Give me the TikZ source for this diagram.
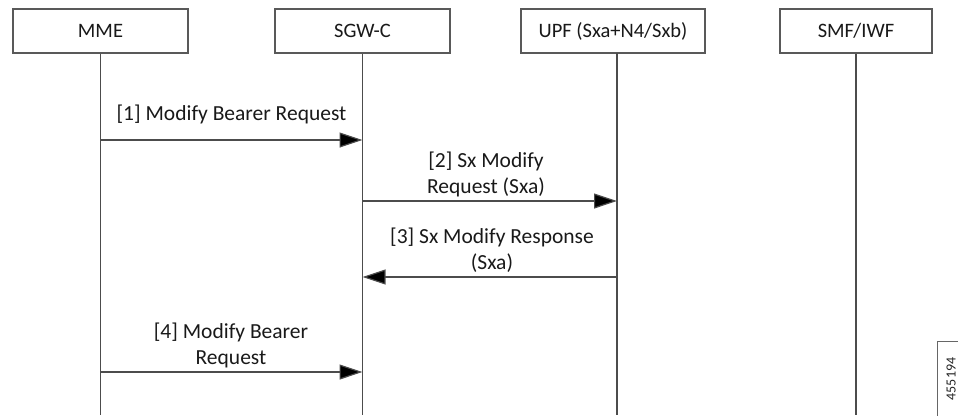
\documentclass[tikz,border=0pt]{standalone}
\usepackage{fontspec}
\setmainfont{Carlito}
\usetikzlibrary{arrows.meta}
\begin{document}
\begin{tikzpicture}[x=1pt,y=-1pt,
  actor/.style={draw=black!65,line width=1.2pt,fill=white,minimum height=44pt,inner sep=0pt,font=\fontsize{20.5}{24}\selectfont,text=black!90},
  life/.style={draw=black!70,line width=1.2pt},
  msg/.style={draw=black!70,line width=1.2pt,-{Triangle[length=23pt,width=15pt,fill=black]}},
  lbl/.style={font=\fontsize{21.5}{26}\selectfont,align=center,text=black!90,inner sep=0pt}]
\useasboundingbox (0,0) rectangle (958,415);
\node[actor,minimum width=175pt] (mme) at (100.5,31) {MME};
\node[actor,minimum width=175pt] (sgw) at (362.5,31) {SGW-C};
\node[actor,minimum width=184pt] (upf) at (613,31) {UPF (Sxa+N4/Sxb)};
\node[actor,minimum width=152pt] (smf) at (856,31) {SMF/IWF};
\coordinate (mmeE) at (mme.south |- 0,415);
\coordinate (sgwE) at (sgw.south |- 0,415);
\coordinate (upfE) at (617,415);
\coordinate (upfS) at (617,53);
\coordinate (smfE) at (smf.south |- 0,415);
\draw[life] (mme.south) -- (mmeE);
\draw[life] (sgw.south) -- (sgwE);
\draw[life] (upfS) -- (upfE);
\draw[life] (smf.south) -- (smfE);
% messages
\coordinate (m1a) at (mme.south |- 0,140);
\coordinate (m1b) at (sgw.south |- 0,140);
\coordinate (m2a) at (sgw.south |- 0,201);
\coordinate (m2b) at (617,201);
\coordinate (m3a) at (617,277);
\coordinate (m3b) at (sgw.south |- 0,277);
\coordinate (m4a) at (mme.south |- 0,372);
\coordinate (m4b) at (sgw.south |- 0,372);
\draw[msg] (m1a) -- (m1b);
\draw[msg] (m2a) -- (m2b);
\draw[msg] (m3a) -- (m3b);
\draw[msg] (m4a) -- (m4b);
\node[lbl] (l1) at (231.5,114) {[1] Modify Bearer Request};
\node[lbl] (l2) at (486,174) {[2] Sx Modify\\Request (Sxa)};
\node[lbl] (l3) at (492,250) {[3] Sx Modify Response\\(Sxa)};
\node[lbl] (l4) at (231,345) {[4] Modify Bearer\\Request};
% figure id
\draw[draw=black!60,line width=0.8pt] (937,416) -- (937,341) -- (960,341);
\node[rotate=90,font=\fontsize{14}{16}\selectfont,text=black!85,inner sep=0pt] (fid) at (951,379) {455194};
\end{tikzpicture}
\end{document}
